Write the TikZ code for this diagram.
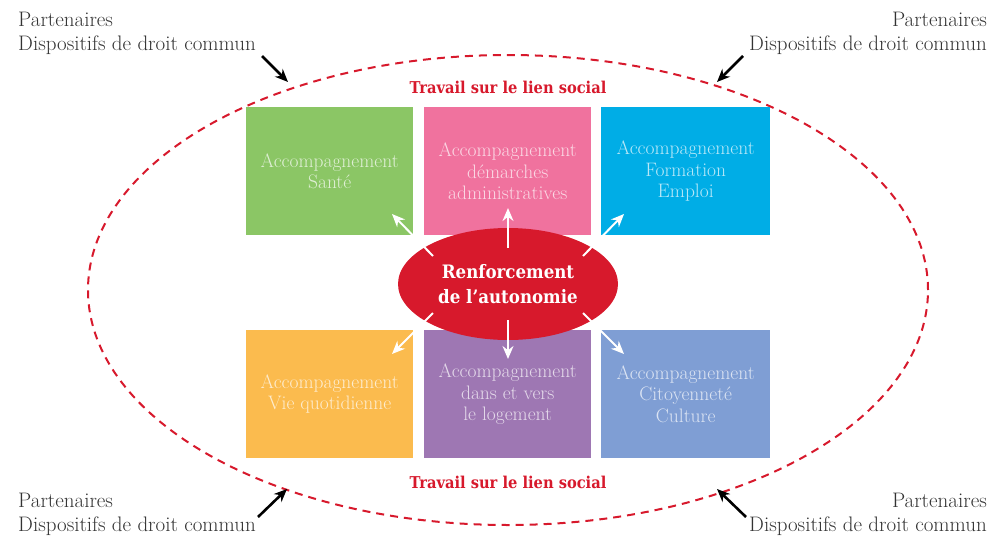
\documentclass[tikz,border=0pt]{standalone}
\usepackage{fontspec}
\usetikzlibrary{arrows.meta,shapes.geometric,calc}
\newfontfamily\slabbold{DejaVu Serif Condensed}[BoldFont={DejaVu Serif Condensed Bold}]
\definecolor{cgreen}{HTML}{8BC665}
\definecolor{cpink}{HTML}{F0729E}
\definecolor{cblue}{HTML}{00ADE6}
\definecolor{corange}{HTML}{FBBB4E}
\definecolor{cpurple}{HTML}{9E77B3}
\definecolor{cslate}{HTML}{7F9ED4}
\definecolor{cred}{HTML}{D7192C}
\begin{document}
\begin{tikzpicture}[x=1pt,y=-1pt,
  tile/.style={minimum width=167pt,minimum height=128pt,inner sep=0pt,anchor=north west,
     text=white,text opacity=0.72,align=center,font=\fontsize{19.5}{21.5}\selectfont},
  partner/.style={inner sep=0pt,font=\fontsize{21}{23.5}\selectfont,text=black!80},
  blackarrow/.style={line width=2.6pt,-{Stealth[length=13pt,width=11pt]}},
  whitearrow/.style={white,line width=2pt,-{Stealth[length=13pt,width=11pt]}},
  redtitle/.style={text=cred,font=\slabbold\bfseries\fontsize{16.3}{18}\selectfont,inner sep=0pt}
]
\useasboundingbox (0,0) rectangle (991,536);
% outer dashed ellipse
\node[draw=cred,dashed,dash pattern=on 8pt off 6pt,line width=2pt,ellipse,
      minimum width=840pt,minimum height=470pt,inner sep=0pt] (outer) at (508,290) {};
% tiles
\node[tile,fill=cgreen] (sante) at (246,107) {Accompagnement\\Santé};
\node[tile,fill=cpink] (admin) at (424,107) {Accompagnement\\démarches\\administratives};
\node[tile,fill=cblue,minimum width=169pt] (emploi) at (601,107) {Accompagnement\\Formation\\Emploi};
\node[tile,fill=corange] (vie) at (246,330) {Accompagnement\\Vie quotidienne};
\node[tile,fill=cpurple] (logement) at (424,330) {Accompagnement\\dans et vers\\le logement};
\node[tile,fill=cslate,minimum width=169pt] (culture) at (601,330) {Accompagnement\\Citoyenneté\\Culture};
% titles
\node[redtitle] (t1) at (508,87) {Travail sur le lien social};
\node[redtitle] (t2) at (508,482) {Travail sur le lien social};
% center ellipse
\node[ellipse,fill=cred,minimum width=220pt,minimum height=112pt,inner sep=0pt,
      text=white,align=center,font=\slabbold\bfseries\fontsize{18.5}{25}\selectfont] (core) at (508,284)
      {Renforcement\\de l’autonomie};
% white arrows
\coordinate (pNW) at (433,256); \coordinate (tNW) at (392,214);
\coordinate (pN) at (508,248);  \coordinate (tN) at (508,208);
\coordinate (pNE) at (583,256); \coordinate (tNE) at (624,214);
\coordinate (pSW) at (433,313); \coordinate (tSW) at (392,354);
\coordinate (pS) at (508,320);  \coordinate (tS) at (508,359);
\coordinate (pSE) at (583,313); \coordinate (tSE) at (624,354);
\draw[whitearrow] (pNW) -- (tNW);
\draw[whitearrow] (pN) -- (tN);
\draw[whitearrow] (pNE) -- (tNE);
\draw[whitearrow] (pSW) -- (tSW);
\draw[whitearrow] (pS) -- (tS);
\draw[whitearrow] (pSE) -- (tSE);
% partner labels
\node[partner,anchor=north west,align=left] (plTL) at (18,12) {Partenaires\\Dispositifs de droit commun};
\node[partner,anchor=north east,align=right] (plTR) at (987,12) {Partenaires\\Dispositifs de droit commun};
\node[partner,anchor=north west,align=left] (plBL) at (18,493) {Partenaires\\Dispositifs de droit commun};
\node[partner,anchor=north east,align=right] (plBR) at (987,493) {Partenaires\\Dispositifs de droit commun};
% black arrows
\coordinate (aTL) at (262,56); \coordinate (eTL) at (288,82);
\coordinate (aTR) at (743,56); \coordinate (eTR) at (717,82);
\coordinate (aBL) at (258,517); \coordinate (eBL) at (287,489);
\coordinate (aBR) at (746,517); \coordinate (eBR) at (717,489);
\draw[blackarrow] (aTL) -- (eTL);
\draw[blackarrow] (aTR) -- (eTR);
\draw[blackarrow] (aBL) -- (eBL);
\draw[blackarrow] (aBR) -- (eBR);
\end{tikzpicture}
\end{document}
